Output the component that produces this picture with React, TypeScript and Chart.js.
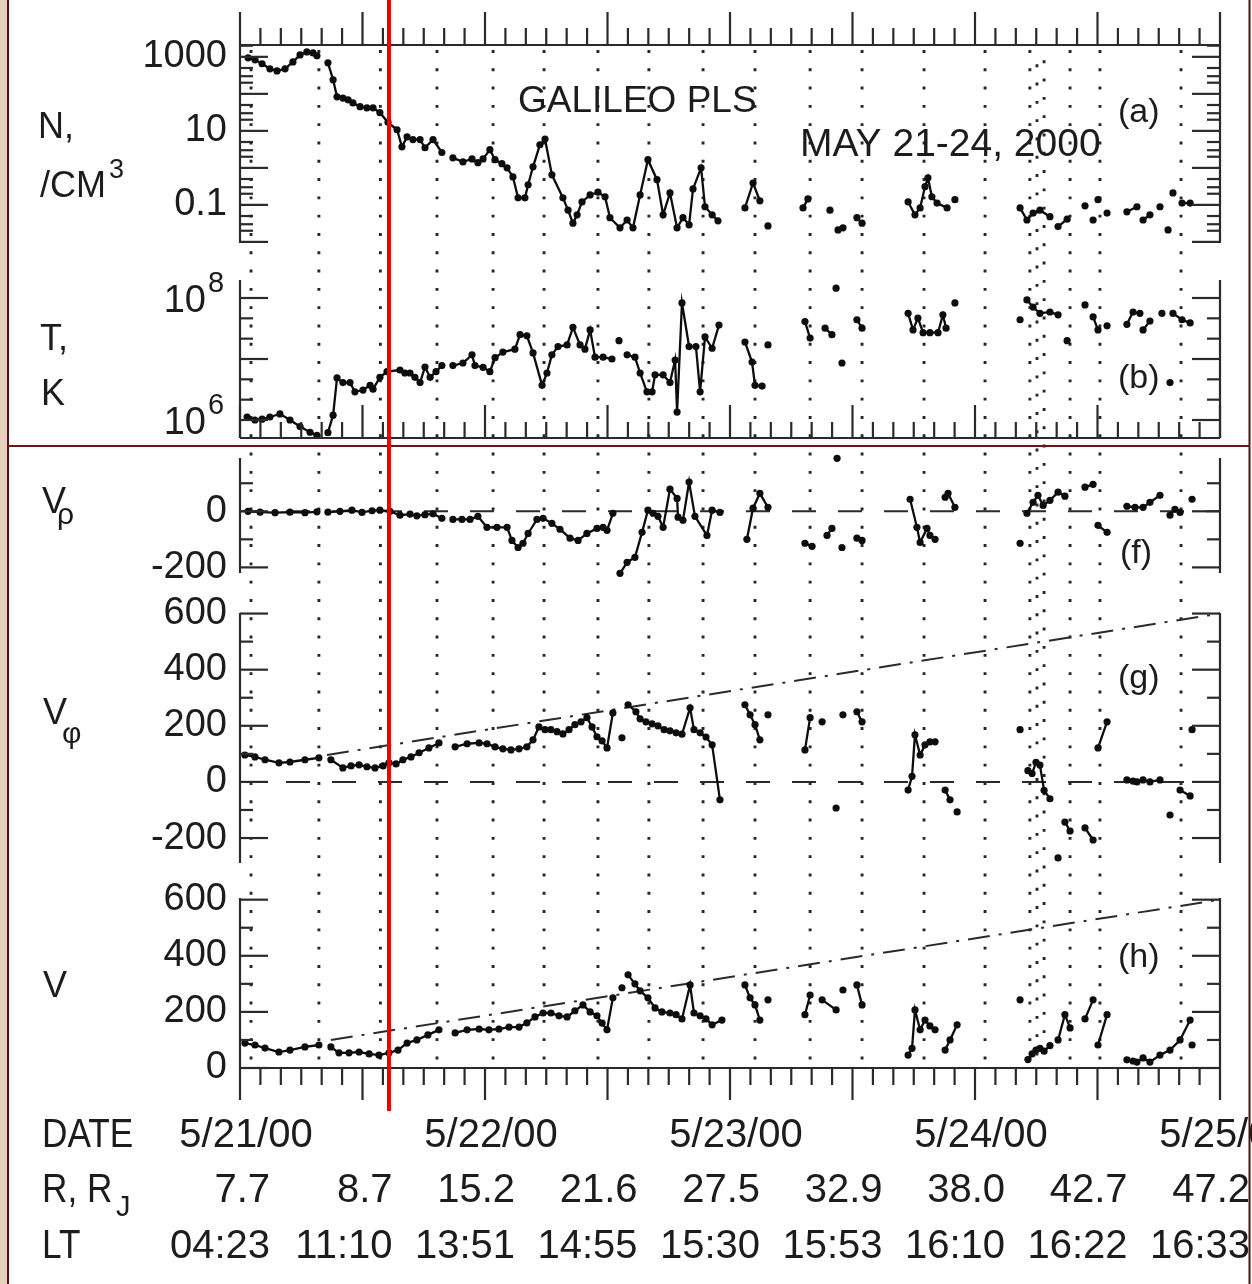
import React, { useEffect, useRef } from "react";
import { Chart, registerables } from "chart.js";

Chart.register(...registerables);

const FONT = "'Liberation Sans', Arial, sans-serif";
const INK = "#1c1c1c";

// ---------- time axis: days after 2000-05-21 00:00 UT ----------
const dayTicks = [0, 1, 2, 3, 4];
const dateLabels = ["5/21/00", "5/22/00", "5/23/00", "5/24/00", "5/25/00"];
const halfDayTicks = [0, 0.5, 1, 1.5, 2, 2.5, 3, 3.5, 4];
const radiusLabels = ["7.7", "8.7", "15.2", "21.6", "27.5", "32.9", "38.0", "42.7", "47.2"];
const localTimeLabels = ["04:23", "11:10", "13:51", "14:55", "15:30", "15:53", "16:10", "16:22", "16:33"];
const boundaryTimes = [0.045, 0.322, 0.573, 0.804, 1.033, 1.241, 1.461, 1.669, 1.89, 2.102, 2.327, 2.539, 2.792, 3.041, 3.388, 3.51, 3.841];
const boundaryTripletTimes = [3.224, 3.253, 3.282];
const markerTime = 0.608;

// ---------- tick label values ----------
const densityLabelTicks = [1000, 10, 0.1];
const temperatureLabelExponents = [8, 6];
const vrhoLabelTicks = [0, -200];
const vphiLabelTicks = [600, 400, 200, 0, -200];
const speedLabelTicks = [600, 400, 200, 0];

// ---------- (a) density N, cm^-3 : [day, value] ----------
const densityPoints: [number, number | null][] = [
  [0.033, 940], [0.061, 830], [0.09, 650], [0.122, 475], [0.151, 416], [0.184, 475], [0.216, 730], [0.245, 1130], [0.273, 1360], [0.298, 1280], [0.314, 1070], [0.32, null],
  [0.359, 690], [0.38, 240], [0.396, 83], [0.42, 77], [0.441, 69], [0.461, 57], [0.49, 45], [0.518, 42], [0.543, 42], [0.571, 31], [0.604, 17], [0.641, 10.7], [0.661, 3.7], [0.682, 6.9], [0.706, 5.8], [0.735, 5.8], [0.755, 3.5], [0.788, 5.8], [0.824, 2.6], [0.85, null],
  [0.869, 1.87], [0.91, 1.45], [0.947, 1.74], [0.971, 1.38], [0.992, 1.74], [1.02, 3.1], [1.041, 1.66], [1.069, 1.3], [1.09, 1.0], [1.114, 0.57], [1.135, 0.155], [1.163, 0.155], [1.176, 0.35], [1.196, 1.07], [1.224, 4.2], [1.245, 6.0], [1.273, 0.65], [1.318, 0.155], [1.339, 0.072], [1.359, 0.032], [1.376, 0.054], [1.396, 0.12], [1.429, 0.186], [1.461, 0.22], [1.49, 0.166], [1.51, 0.045], [1.551, 0.024], [1.58, 0.039], [1.604, 0.024], [1.633, 0.186], [1.665, 1.66], [1.702, 0.48], [1.727, 0.054], [1.755, 0.21], [1.784, 0.024], [1.808, 0.045], [1.833, 0.029], [1.849, 0.27], [1.882, 1.0], [1.898, 0.089], [1.927, 0.054], [1.951, 0.037], [2.0, null],
  [2.061, 0.083], [2.094, 0.39], [2.122, 0.129], [2.14, null], [2.155, 0.027], [2.2, null],
  [2.298, 0.083], [2.318, 0.145], [2.35, null], [2.408, 0.072], [2.42, null], [2.441, 0.021], [2.461, 0.024], [2.5, null], [2.518, 0.045], [2.539, 0.032], [2.6, null],
  [2.727, 0.12], [2.755, 0.054], [2.776, 0.083], [2.796, 0.31], [2.808, 0.54], [2.824, 0.166], [2.845, 0.112], [2.886, 0.083], [2.9, null], [2.918, 0.138], [3.0, null],
  [3.184, 0.083], [3.212, 0.039], [3.237, 0.06], [3.265, 0.072], [3.306, 0.048], [3.32, null], [3.339, 0.026], [3.376, 0.041], [3.4, null], [3.449, 0.094], [3.46, null], [3.482, 0.039], [3.49, null], [3.502, 0.138], [3.52, null], [3.539, 0.06], [3.58, null],
  [3.62, 0.065], [3.661, 0.089], [3.67, null], [3.686, 0.039], [3.714, 0.054], [3.73, null], [3.755, 0.089], [3.77, null], [3.788, 0.021], [3.8, null], [3.808, 0.21], [3.83, null], [3.845, 0.112], [3.878, 0.112],
];

// ---------- (b) temperature T, K ----------
const temperaturePoints: [number, number | null][] = [
  [0.029, 1.12e6], [0.061, 1.0e6], [0.09, 1.03e6], [0.122, 1.12e6], [0.163, 1.26e6], [0.204, 1.0e6], [0.245, 7.8e5], [0.286, 6.3e5], [0.314, 5.6e5], [0.32, null],
  [0.359, 6.2e5], [0.38, 1.2e6], [0.396, 4.9e6], [0.42, 4.1e6], [0.449, 4.1e6], [0.469, 2.9e6], [0.502, 3.1e6], [0.531, 3.7e6], [0.543, 3.2e6], [0.571, 5.0e6], [0.6, 6.2e6], [0.653, 6.6e6], [0.673, 5.9e6], [0.694, 5.9e6], [0.714, 5.0e6], [0.735, 4.1e6], [0.755, 7.4e6], [0.776, 5.0e6], [0.8, 6.2e6], [0.824, 7.8e6], [0.85, null],
  [0.869, 7.8e6], [0.91, 8.6e6], [0.947, 1.17e7], [0.959, 7.8e6], [0.992, 7.3e6], [1.02, 6.2e6], [1.041, 1.05e7], [1.073, 1.3e7], [1.122, 1.45e7], [1.143, 2.5e7], [1.171, 2.4e7], [1.196, 1.26e7], [1.233, 3.7e6], [1.253, 5.9e6], [1.273, 1.17e7], [1.298, 1.6e7], [1.335, 1.7e7], [1.359, 3.3e7], [1.388, 1.7e7], [1.408, 1.45e7], [1.429, 3.0e7], [1.449, 1.07e7], [1.482, 1.07e7], [1.518, 1.0e7], [1.53, null], [1.547, 2.0e7], [1.56, null],
  [1.58, 1.17e7], [1.612, 1.07e7], [1.633, 5.9e6], [1.661, 2.9e6], [1.682, 2.9e6], [1.694, 5.5e6], [1.727, 5.5e6], [1.755, 4.1e6], [1.776, 9.6e6], [1.784, 1.35e6], [1.804, 8.3e7], [1.833, 1.6e7], [1.861, 1.6e7], [1.878, 2.9e6], [1.898, 2.3e7], [1.927, 1.5e7], [1.955, 3.6e7], [2.0, null],
  [2.061, 1.9e7], [2.09, 8.9e6], [2.102, 3.7e6], [2.131, 3.6e6], [2.14, null], [2.155, 1.7e7], [2.2, null],
  [2.306, 4.1e7], [2.327, 2.2e7], [2.35, null], [2.388, 3.2e7], [2.416, 2.5e7], [2.42, null], [2.433, 1.45e8], [2.44, null], [2.457, 8.6e6], [2.47, null], [2.518, 4.4e7], [2.539, 3.2e7], [2.6, null],
  [2.727, 5.6e7], [2.747, 3.0e7], [2.767, 4.7e7], [2.788, 2.7e7], [2.816, 2.7e7], [2.849, 2.7e7], [2.869, 5.3e7], [2.882, 3.2e7], [2.9, null], [2.918, 8.3e7], [3.0, null],
  [3.184, 4.4e7], [3.2, null], [3.212, 9.3e7], [3.237, 7.1e7], [3.265, 5.6e7], [3.306, 5.9e7], [3.339, 5.3e7], [3.35, null], [3.376, 2.0e7], [3.4, null], [3.449, 7.7e7], [3.46, null], [3.482, 4.9e7], [3.502, 3.0e7], [3.52, null], [3.539, 3.5e7], [3.58, null],
  [3.62, 3.7e7], [3.645, 5.9e7], [3.673, 5.6e7], [3.68, null], [3.686, 3.0e7], [3.714, 4.2e7], [3.73, null], [3.763, 5.6e7], [3.78, null], [3.796, 4.1e6], [3.8, null], [3.808, 5.6e7], [3.845, 4.4e7], [3.878, 3.9e7],
];

// ---------- (f) radial velocity V_rho, km/s ----------
const vrhoPoints: [number, number | null][] = [
  [0.033, 0], [0.082, -3], [0.143, -5], [0.204, -3], [0.265, -5], [0.314, -2], [0.32, null],
  [0.359, -3], [0.408, 0], [0.457, 4], [0.498, -4], [0.539, 2], [0.571, 4], [0.612, 0], [0.653, -14], [0.694, -10], [0.722, -16], [0.755, -12], [0.788, -9], [0.824, -25], [0.85, null],
  [0.869, -29], [0.906, -29], [0.939, -29], [0.971, -18], [1.008, -57], [1.049, -57], [1.09, -57], [1.11, -104], [1.135, -129], [1.155, -114], [1.176, -79], [1.212, -29], [1.237, -25], [1.273, -43], [1.306, -64], [1.347, -96], [1.38, -104], [1.416, -79], [1.457, -61], [1.482, -57], [1.498, -68], [1.522, -7], [1.54, null],
  [1.551, -221], [1.58, -182], [1.612, -164], [1.641, -75], [1.665, 4], [1.686, -7], [1.706, -18], [1.727, -57], [1.755, 79], [1.784, 46], [1.788, -21], [1.808, -32], [1.833, 104], [1.857, -18], [1.906, -86], [1.927, 4], [1.959, -4], [2.0, null],
  [2.069, -100], [2.094, 11], [2.122, 64], [2.155, 14], [2.2, null],
  [2.306, -114], [2.335, -125], [2.36, null], [2.396, -86], [2.416, -61], [2.43, null], [2.437, 189], [2.45, null], [2.457, -129], [2.48, null], [2.518, -96], [2.539, -104], [2.6, null],
  [2.735, 43], [2.763, -57], [2.776, -111], [2.804, -61], [2.816, -86], [2.837, -100], [2.86, null], [2.878, 50], [2.89, 64], [2.918, 14], [3.0, null],
  [3.184, -114], [3.2, null], [3.212, -7], [3.237, 32], [3.257, 57], [3.278, 21], [3.306, 39], [3.339, 68], [3.367, 54], [3.4, null], [3.449, 86], [3.482, 96], [3.49, null], [3.502, -50], [3.539, -75], [3.58, null],
  [3.62, 18], [3.653, 14], [3.686, 14], [3.714, 32], [3.755, 57], [3.78, null], [3.796, -14], [3.816, 7], [3.837, -4], [3.86, null], [3.886, 43],
];

// ---------- (g) azimuthal velocity V_phi, km/s ----------
const vphiPoints: [number, number | null][] = [
  [0.02, 96], [0.061, 89], [0.102, 79], [0.159, 68], [0.204, 71], [0.265, 79], [0.322, 86], [0.34, null],
  [0.371, 79], [0.42, 50], [0.453, 57], [0.486, 61], [0.518, 54], [0.551, 50], [0.584, 57], [0.608, 68], [0.637, 64], [0.665, 79], [0.698, 89], [0.731, 104], [0.771, 121], [0.812, 139], [0.84, null],
  [0.878, 125], [0.927, 136], [0.976, 139], [1.008, 136], [1.041, 125], [1.073, 118], [1.106, 114], [1.139, 118], [1.171, 125], [1.196, 150], [1.22, 196], [1.245, 186], [1.269, 186], [1.294, 179], [1.318, 171], [1.343, 186], [1.367, 204], [1.392, 214], [1.416, 229], [1.437, 196], [1.457, 161], [1.478, 146], [1.498, 121], [1.522, 246], [1.54, null], [1.559, 157], [1.57, null],
  [1.584, 275], [1.616, 250], [1.633, 225], [1.657, 214], [1.682, 207], [1.706, 200], [1.731, 186], [1.755, 182], [1.78, 175], [1.804, 170], [1.837, 264], [1.853, 186], [1.878, 175], [1.902, 160], [1.927, 132], [1.959, -64], [2.0, null],
  [2.061, 275], [2.082, 239], [2.102, 204], [2.122, 150], [2.14, null], [2.155, 239], [2.2, null],
  [2.306, 114], [2.327, 229], [2.35, null], [2.376, 214], [2.4, null], [2.433, -93], [2.45, null], [2.461, 239], [2.49, null], [2.518, 250], [2.539, 214], [2.6, null],
  [2.727, -29], [2.743, 20], [2.755, 168], [2.776, 96], [2.796, 132], [2.816, 143], [2.837, 143], [2.86, null], [2.878, -29], [2.898, -64], [2.91, null], [2.927, -107], [3.0, null],
  [3.184, 186], [3.2, null], [3.216, 40], [3.233, 30], [3.249, 70], [3.265, 60], [3.282, -30], [3.306, -60], [3.32, null], [3.339, -271], [3.35, null], [3.367, -143], [3.388, -175], [3.4, null], [3.449, -164], [3.482, -207], [3.49, null], [3.502, 121], [3.539, 214], [3.58, null],
  [3.62, 7], [3.645, 3], [3.661, 0], [3.686, 7], [3.714, 0], [3.755, 7], [3.78, null], [3.796, -118], [3.81, null], [3.837, -29], [3.878, -50], [3.88, null], [3.886, 186],
];

// ---------- (h) flow speed V, km/s ----------
const speedPoints: [number, number | null][] = [
  [0.02, 89], [0.061, 82], [0.102, 71], [0.159, 57], [0.204, 64], [0.265, 75], [0.322, 82], [0.34, null],
  [0.371, 75], [0.404, 54], [0.445, 54], [0.486, 57], [0.527, 50], [0.567, 46], [0.608, 54], [0.645, 64], [0.682, 89], [0.722, 100], [0.767, 118], [0.812, 136], [0.84, null],
  [0.878, 125], [0.927, 136], [0.976, 139], [1.016, 136], [1.057, 139], [1.098, 146], [1.139, 146], [1.171, 161], [1.204, 182], [1.237, 196], [1.269, 196], [1.302, 186], [1.335, 182], [1.367, 204], [1.4, 225], [1.429, 200], [1.457, 186], [1.478, 160], [1.498, 136], [1.522, 250], [1.54, null], [1.559, 286], [1.57, null],
  [1.584, 332], [1.612, 300], [1.633, 275], [1.665, 250], [1.694, 214], [1.722, 200], [1.755, 196], [1.78, 190], [1.804, 175], [1.837, 296], [1.853, 196], [1.878, 186], [1.902, 175], [1.927, 154], [1.967, 171], [2.0, null],
  [2.061, 296], [2.082, 250], [2.102, 225], [2.122, 171], [2.14, null], [2.155, 243], [2.2, null],
  [2.306, 190], [2.327, 260], [2.35, null], [2.376, 243], [2.433, 207], [2.45, null], [2.461, 278], [2.49, null], [2.518, 296], [2.539, 225], [2.6, null],
  [2.727, 46], [2.743, 70], [2.755, 207], [2.776, 136], [2.796, 171], [2.816, 150], [2.837, 136], [2.86, null], [2.878, 64], [2.898, 100], [2.927, 154], [3.0, null],
  [3.184, 243], [3.2, null], [3.216, 30], [3.233, 50], [3.249, 64], [3.265, 70], [3.282, 60], [3.306, 80], [3.32, null], [3.339, 100], [3.367, 190], [3.388, 143], [3.4, null], [3.449, 175], [3.482, 243], [3.49, null], [3.502, 82], [3.539, 190], [3.58, null],
  [3.62, 29], [3.645, 25], [3.661, 21], [3.686, 36], [3.714, 21], [3.755, 46], [3.796, 64], [3.837, 100], [3.878, 171], [3.88, null], [3.886, 82],
];

// ---------- reference lines ----------
const zeroLine: [number, number][] = [[0, 0], [4, 0]];
const corotationPhi: [number, number][] = [[0.355, 96], [4, 600]];
const corotationSpeed: [number, number][] = [[0.371, 100], [4, 600]];

// ---------- layout (pixels) ----------
const W = 1252;
const H = 1284;
const PANEL_BOX: Record<string, [number, number]> = {
  yN: [45, 243],
  yT: [280, 438],
  yVr: [458, 573],
  yVphi: [613, 863],
  yV: [898, 1068],
};

const toXY = (pts: [number, number | null][]) => pts.map(([x, y]) => ({ x, y }));

function seg(ctx: CanvasRenderingContext2D, x1: number, y1: number, x2: number, y2: number) {
  ctx.beginPath();
  ctx.moveTo(x1, y1);
  ctx.lineTo(x2, y2);
  ctx.stroke();
}

function logTicks(lo: number, hi: number, mult: number[]) {
  const out: number[] = [];
  for (let e = -3; e <= 9; e++) {
    for (const m of mult) {
      const v = m * Math.pow(10, e);
      if (v >= lo * 0.999 && v <= hi * 1.001) out.push(v);
    }
  }
  return out;
}

function rangeTicks(lo: number, hi: number, step: number) {
  const out: number[] = [];
  for (let v = Math.ceil(lo / step) * step; v <= hi; v += step) out.push(v);
  return out;
}

const decorPlugin = {
  id: "decor",
  afterLayout(chart: any) {
    const right = chart.chartArea.left;
    for (const id of Object.keys(PANEL_BOX)) {
      const s = chart.scales[id];
      const [t, b] = PANEL_BOX[id];
      s.left = 0;
      s.right = right;
      s.width = right;
      s.top = t;
      s.bottom = b;
      s.height = b - t;
      s.configure();
    }
  },
  beforeDatasetsDraw(chart: any) {
    const ctx: CanvasRenderingContext2D = chart.ctx;
    const xs = chart.scales.x;
    ctx.save();
    ctx.strokeStyle = "#262626";
    ctx.lineWidth = 2.9;
    ctx.setLineDash([2.9, 15.4]);
    for (const t of boundaryTimes) {
      const x = xs.getPixelForValue(t);
      seg(ctx, x, 50, x, 1066);
    }
    boundaryTripletTimes.forEach((t, i) => {
      const x = xs.getPixelForValue(t);
      ctx.lineDashOffset = i * 4;
      seg(ctx, x, 50, x, 1066);
    });
    ctx.restore();
  },
  afterDatasetsDraw(chart: any) {
    const ctx: CanvasRenderingContext2D = chart.ctx;
    const xs = chart.scales.x;
    const L = chart.chartArea.left;
    const R = chart.chartArea.right;
    ctx.save();
    ctx.strokeStyle = "#2a2a2a";
    ctx.lineWidth = 2.2;
    ctx.setLineDash([]);

    // y axes
    const yTickSets: Record<string, [number[], number[]]> = {
      yN: [logTicks(0.009, 3000, [1]), logTicks(0.0093, 2090, [2, 3, 5])],
      yT: [
        [1e6, 1e7, 1e8],
        [5, 6, 7, 8].flatMap((e) => [Math.pow(10, e + 1 / 3), Math.pow(10, e + 2 / 3)]).filter((v) => v > 5.2e5 && v < 1.9e8),
      ],
      yVr: [rangeTicks(-220, 190, 200), rangeTicks(-220, 190, 100).filter((v) => v % 200 !== 0)],
      yVphi: [rangeTicks(-289, 602, 200), rangeTicks(-289, 602, 100).filter((v) => v % 200 !== 0)],
      yV: [rangeTicks(0, 606, 200), rangeTicks(0, 606, 100).filter((v) => v % 200 !== 0)],
    };
    for (const id of Object.keys(PANEL_BOX)) {
      const s = chart.scales[id];
      const [top, bottom] = PANEL_BOX[id];
      seg(ctx, L, top, L, bottom);
      seg(ctx, R, top, R, bottom);
      const [majors, minors] = yTickSets[id];
      for (const v of majors) {
        const y = s.getPixelForValue(v);
        if (y < top - 0.5 || y > bottom + 0.5) continue;
        seg(ctx, L, y, L + 28, y);
        seg(ctx, R, y, R - 28, y);
      }
      for (const v of minors) {
        const y = s.getPixelForValue(v);
        if (y < top - 0.5 || y > bottom + 0.5) continue;
        seg(ctx, L, y, L + 13, y);
        seg(ctx, R, y, R - 13, y);
      }
    }

    // x axes: ticks every 2 hours, long every 12 hours
    const topY = PANEL_BOX.yN[0];
    const midY = PANEL_BOX.yT[1];
    const botY = PANEL_BOX.yV[1];
    seg(ctx, L, topY, R, topY);
    seg(ctx, L, midY, R, midY);
    seg(ctx, L, botY, R, botY);
    for (let i = 0; i <= 48; i++) {
      const x = xs.getPixelForValue(i / 12);
      const major = i % 6 === 0;
      seg(ctx, x, topY, x, topY - (major ? 33 : 17));
      seg(ctx, x, midY, x, midY - (major ? 33 : 16));
      seg(ctx, x, botY, x, botY + (major ? 32 : 17));
    }

    // temperature decade labels with superscripts
    const sT = chart.scales.yT;
    ctx.fillStyle = INK;
    ctx.textBaseline = "alphabetic";
    for (const e of temperatureLabelExponents) {
      const y = sT.getPixelForValue(Math.pow(10, e));
      ctx.font = `38px ${FONT}`;
      ctx.textAlign = "right";
      ctx.fillText("10", 206, y + 14);
      ctx.font = `29px ${FONT}`;
      ctx.textAlign = "left";
      ctx.fillText(String(e), 208, y - 6);
    }
    ctx.restore();
  },
  afterDraw(chart: any) {
    const ctx: CanvasRenderingContext2D = chart.ctx;
    const xs = chart.scales.x;
    ctx.save();
    ctx.fillStyle = INK;
    ctx.textBaseline = "alphabetic";
    ctx.textAlign = "left";

    // axis titles
    ctx.font = `36px ${FONT}`;
    ctx.fillText("N,", 38, 138);
    ctx.fillText("/CM", 40, 197);
    ctx.fillText("T,", 40, 350);
    ctx.fillText("K", 41, 405);
    ctx.fillText("V", 42, 513);
    ctx.fillText("V", 43, 724);
    ctx.fillText("V", 43, 997);
    ctx.font = `27px ${FONT}`;
    ctx.fillText("3", 109, 178);
    ctx.font = `30px ${FONT}`;
    ctx.fillText("\u03c1", 57, 524);
    ctx.fillText("\u03c6", 62, 743);

    // in-plot annotations
    ctx.font = `37px ${FONT}`;
    ctx.fillText("GALILEO PLS", 518, 112);
    ctx.font = `39px ${FONT}`;
    ctx.fillText("MAY 21-24, 2000", 800, 156);
    ctx.font = `34px ${FONT}`;
    ctx.fillText("(a)", 1118, 122);
    ctx.fillText("(b)", 1118, 388);
    ctx.fillText("(f)", 1120, 563);
    ctx.fillText("(g)", 1118, 688);
    ctx.fillText("(h)", 1118, 967);

    // bottom rows
    ctx.font = `40px ${FONT}`;
    ctx.save();
    ctx.translate(42, 0);
    ctx.scale(0.88, 1);
    ctx.fillText("DATE", 0, 1147);
    ctx.fillText("R, R", 0, 1202);
    ctx.fillText("LT", 0, 1258);
    ctx.restore();
    ctx.font = `29px ${FONT}`;
    ctx.fillText("J", 116, 1216);
    ctx.font = `40px ${FONT}`;
    ctx.textAlign = "center";
    dayTicks.forEach((d, i) => ctx.fillText(dateLabels[i], xs.getPixelForValue(d) + 6, 1147));
    ctx.textAlign = "right";
    halfDayTicks.forEach((d, i) => {
      const x = xs.getPixelForValue(d) + 30;
      ctx.fillText(radiusLabels[i], x, 1202);
      ctx.fillText(localTimeLabels[i], x, 1258);
    });

    // frame of the slide
    ctx.fillStyle = "#e8d2bc";
    ctx.fillRect(0, 0, 8, H);
    ctx.strokeStyle = "#4a1212";
    ctx.lineWidth = 2;
    seg(ctx, 8, 0, 8, H);
    seg(ctx, 1249.5, 0, 1249.5, H);
    ctx.strokeStyle = "#6e1616";
    seg(ctx, 8, 446, 1250, 446);

    // red marker line
    ctx.strokeStyle = "#f00000";
    ctx.lineWidth = 4;
    const xm = xs.getPixelForValue(markerTime);
    seg(ctx, xm, 0, xm, 1111);
    ctx.restore();
  },
};

export default function App() {
  const ref = useRef<HTMLCanvasElement | null>(null);

  useEffect(() => {
    if (!ref.current) return;
    const dataStyle = {
      borderColor: "#0d0d0d",
      backgroundColor: "#0d0d0d",
      borderWidth: 2.3,
      pointRadius: 3.6,
      pointHoverRadius: 3.6,
      pointBorderWidth: 0,
      spanGaps: false,
      tension: 0,
      clip: false as const,
    };
    const refStyle = {
      borderColor: "#2a2a2a",
      borderWidth: 2,
      pointRadius: 0,
      pointHoverRadius: 0,
      tension: 0,
      clip: false as const,
    };
    const yBase = (extra: any) => ({
      position: "left" as const,
      bounds: "data" as const,
      grid: { display: false, drawTicks: false },
      border: { display: false },
      afterFit: (s: any) => {
        s.width = 48;
      },
      ...extra,
      ticks: {
        color: INK,
        font: { family: FONT, size: 38 },
        padding: 13,
        autoSkip: false,
        ...(extra.ticks || {}),
      },
    });
    const fixedTicks = (vals: number[]) => (s: any) => {
      s.ticks = vals.map((value) => ({ value }));
    };

    const chart = new Chart(ref.current, {
      type: "line",
      data: {
        datasets: [
          { label: "N", data: toXY(densityPoints), yAxisID: "yN", ...dataStyle },
          { label: "T", data: toXY(temperaturePoints), yAxisID: "yT", ...dataStyle },
          { label: "V_rho", data: toXY(vrhoPoints), yAxisID: "yVr", ...dataStyle },
          { label: "V_phi", data: toXY(vphiPoints), yAxisID: "yVphi", ...dataStyle },
          { label: "V", data: toXY(speedPoints), yAxisID: "yV", ...dataStyle },
          { label: "zero rho", data: toXY(zeroLine), yAxisID: "yVr", borderDash: [24, 22], ...refStyle },
          { label: "zero phi", data: toXY(zeroLine), yAxisID: "yVphi", borderDash: [24, 22], ...refStyle },
          { label: "corotation phi", data: toXY(corotationPhi), yAxisID: "yVphi", borderDash: [22, 9, 3, 9], ...refStyle },
          { label: "corotation V", data: toXY(corotationSpeed), yAxisID: "yV", borderDash: [22, 9, 3, 9], ...refStyle },
        ] as any,
      },
      options: {
        responsive: false,
        animation: false,
        events: [],
        layout: { padding: { left: 0, right: 32, top: 45, bottom: 216 } },
        plugins: { legend: { display: false }, tooltip: { enabled: false } },
        scales: {
          x: { type: "linear", min: 0, max: 4, display: false },
          yN: yBase({
            type: "logarithmic",
            min: Math.pow(10, -2.03),
            max: Math.pow(10, 3.32),
            afterBuildTicks: fixedTicks(densityLabelTicks),
            ticks: { callback: (v: any) => String(v) },
          }),
          yT: yBase({
            type: "logarithmic",
            min: Math.pow(10, 5.705),
            max: Math.pow(10, 8.295),
            ticks: { display: false },
          }),
          yVr: yBase({
            type: "linear",
            min: -220,
            max: 190,
            afterBuildTicks: fixedTicks(vrhoLabelTicks),
            ticks: { callback: (v: any) => String(v) },
          }),
          yVphi: yBase({
            type: "linear",
            min: -289,
            max: 602,
            afterBuildTicks: fixedTicks(vphiLabelTicks),
            ticks: { callback: (v: any) => String(v) },
          }),
          yV: yBase({
            type: "linear",
            min: 0,
            max: 606,
            afterBuildTicks: fixedTicks(speedLabelTicks),
            ticks: { callback: (v: any) => String(v) },
          }),
        } as any,
      },
      plugins: [decorPlugin as any],
    });
    return () => chart.destroy();
  }, []);

  return (
    <div style={{ position: "absolute", left: 0, top: 0, width: W, height: H, background: "#fff" }}>
      <canvas ref={ref} width={W} height={H} style={{ display: "block", width: W, height: H }} />
    </div>
  );
}
